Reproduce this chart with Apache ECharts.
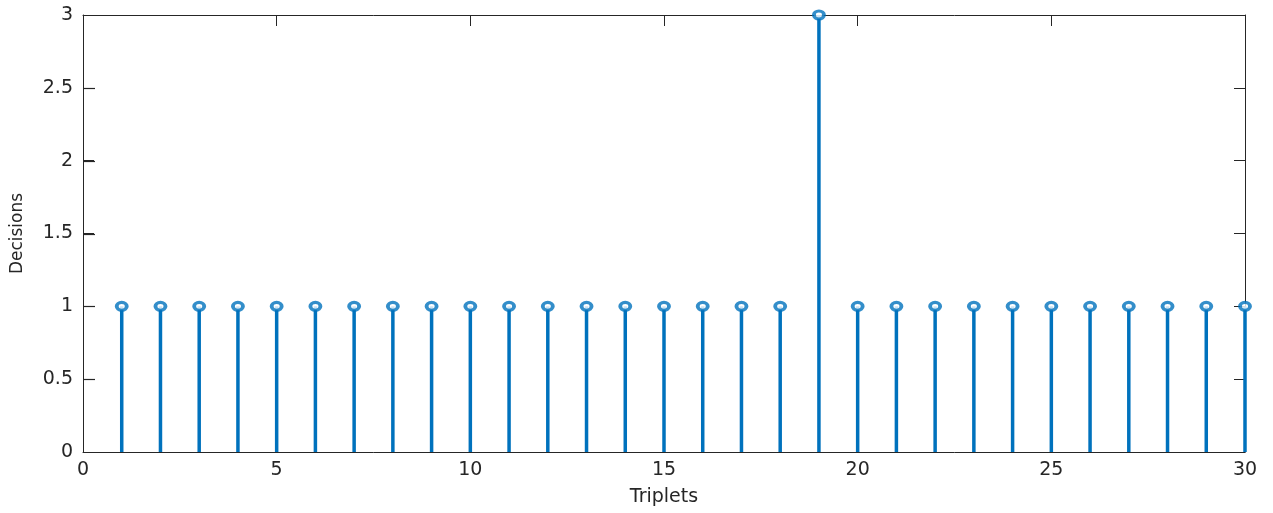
<!DOCTYPE html>
<html><head><meta charset="utf-8">
<script src="https://cdn.jsdelivr.net/npm/echarts@6/dist/echarts.min.js"></script>
<style>html,body{margin:0;padding:0;background:#fff}#c{width:1273px;height:513px}</style>
</head><body><div id="c"></div>
<script>
const triplets = [1,2,3,4,5,6,7,8,9,10,11,12,13,14,15,16,17,18,19,20,21,22,23,24,25,26,27,28,29,30];
const decisions = [1,1,1,1,1,1,1,1,1,1,1,1,1,1,1,1,1,1,3,1,1,1,1,1,1,1,1,1,1,1];
const xTicks = {min:0, max:30, interval:5};
const yTicks = {min:0, max:3, interval:0.5};
const yTickValues = [0.5, 1, 1.5, 2, 2.5];

const data = triplets.map((t,i)=>[t, decisions[i]]);
const col = '#0072BD';
const axCol = '#262626';
const font = '"DejaVu Sans", Arial, sans-serif';
const chart = echarts.init(document.getElementById('c'));
chart.setOption({
  animation:false,
  grid:{left:83, right:28, top:15, bottom:61, containLabel:false, outerBoundsMode:'none'},
  xAxis:[
    {type:'value', min:xTicks.min, max:xTicks.max, interval:xTicks.interval, position:'bottom',
      name:'Triplets', nameLocation:'middle', nameGap:36,
      nameTextStyle:{color:axCol, fontSize:19, fontFamily:font},
      axisLabel:{color:axCol, fontSize:19, fontFamily:font, margin:9},
      axisLine:{show:true, onZero:false, lineStyle:{color:axCol}},
      axisTick:{show:true, inside:true, length:11, lineStyle:{color:axCol}}, splitLine:{show:false}},
    {type:'value', min:xTicks.min, max:xTicks.max, interval:xTicks.interval, position:'top',
      axisLabel:{show:false},
      axisLine:{show:true, onZero:false, lineStyle:{color:axCol}},
      axisTick:{show:true, inside:true, length:11, lineStyle:{color:axCol}}, splitLine:{show:false}}
  ],
  yAxis:[
    {type:'value', min:yTicks.min, max:yTicks.max, interval:yTicks.interval, position:'left',
      name:'Decisions', nameLocation:'middle', nameGap:57,
      nameTextStyle:{color:axCol, fontSize:17, fontFamily:font},
      axisLabel:{color:axCol, fontSize:19, fontFamily:font, margin:10},
      axisLine:{show:true, onZero:false, lineStyle:{color:axCol}},
      axisTick:{show:true, inside:true, length:11, lineStyle:{color:axCol}}, splitLine:{show:false}},
    {type:'value', min:yTicks.min, max:yTicks.max, interval:yTicks.interval, position:'right',
      axisLabel:{show:false},
      axisLine:{show:true, onZero:false, lineStyle:{color:axCol}},
      axisTick:{show:true, inside:true, length:11, lineStyle:{color:axCol}}, splitLine:{show:false}}
  ],
  series:[
    {type:'custom', xAxisIndex:0, yAxisIndex:0, data:data, z:2, clip:false,
      renderItem:function(params, api){
        const p0 = api.coord([api.value(0), 0]);
        const p1 = api.coord([api.value(0), api.value(1)]);
        return {type:'line', shape:{x1:p0[0], y1:p0[1], x2:p1[0], y2:p1[1]},
          style:{stroke:col, lineWidth:3.5}};
      }},
    {type:'custom', xAxisIndex:0, yAxisIndex:0, data:yTickValues.map(v=>[xTicks.min, v]),
      zlevel:1, z:10, clip:false, silent:true,
      renderItem:function(params, api){
        const p = api.coord([api.value(0), api.value(1)]);
        const x = Math.round(p[0]), y = Math.round(p[1]) + 0.5;
        return {type:'line', shape:{x1:x, y1:y, x2:x + 12, y2:y},
          style:{stroke:axCol, lineWidth:1.2}};
      }},
    {type:'scatter', xAxisIndex:0, yAxisIndex:0, data:data, z:3, symbol:'circle', symbolSize:[10,8],
      itemStyle:{color:'#fff', borderColor:col, borderWidth:3.5}}
  ]
});
</script></body></html>
